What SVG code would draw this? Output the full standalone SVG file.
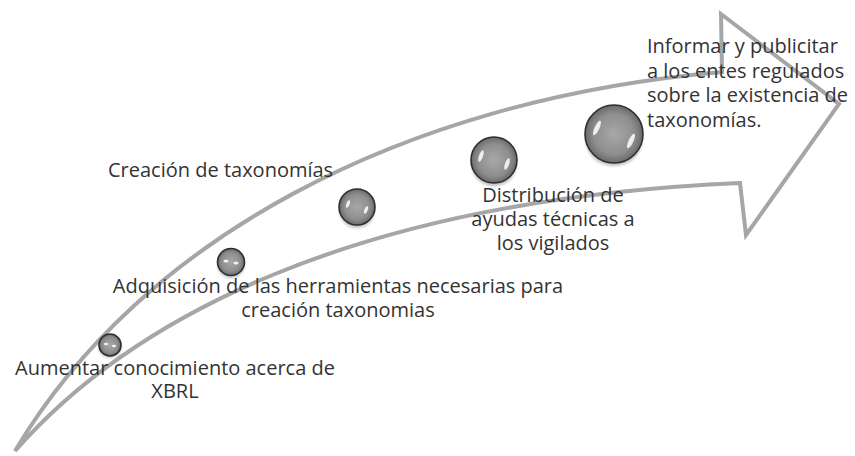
<svg xmlns="http://www.w3.org/2000/svg" width="855" height="456" viewBox="0 0 855 456">
<defs>
<radialGradient id="sg" cx="50%" cy="50%" r="50%">
<stop offset="0" stop-color="#a8a8a8"/>
<stop offset="0.7" stop-color="#8e8e8e"/>
<stop offset="1" stop-color="#6a6a6a"/>
</radialGradient>
<filter id="sh" x="-50%" y="-50%" width="200%" height="200%">
<feGaussianBlur stdDeviation="1.5"/>
</filter>
</defs>
<style>
.lbl{font-family:"Open Sans","Noto Sans","Liberation Sans",sans-serif;font-size:20px;fill:#333333}
.mid{text-anchor:middle}
.arrow{fill:none;stroke:#a6a6a6;stroke-width:4;stroke-linejoin:miter}
.ball{fill:url(#sg);stroke:#2e2e2e;stroke-width:1.6}
.hl{fill:#ffffff;opacity:0.85}
.shd{fill:#000;opacity:0.25;filter:url(#sh)}
</style>
<rect width="855" height="456" fill="#ffffff"/>
<g id="connectors">
<path class="arrow" d="M15,451 C140,240 400,100 722,72 L721,14 L839,104 L746,235 L740,183 C350,200 130,320 15,451 Z"/>
</g>
<g id="n1">
<ellipse class="shd" cx="110" cy="348" rx="11" ry="10"/>
<circle class="ball" cx="110" cy="345" r="11"/>
<ellipse class="hl" cx="106" cy="344" rx="2.2" ry="1.3"/>
<ellipse class="hl" cx="114" cy="346" rx="2.2" ry="1.3"/>
<text class="lbl mid" x="175" y="375">Aumentar conocimiento acerca de</text>
<text class="lbl mid" x="175" y="398">XBRL</text>
</g>
<g id="n2">
<ellipse class="shd" cx="231" cy="266" rx="13" ry="12"/>
<circle class="ball" cx="231" cy="262" r="13.5"/>
<ellipse class="hl" cx="226" cy="261" rx="2.6" ry="1.6"/>
<ellipse class="hl" cx="236" cy="263" rx="2.6" ry="1.6"/>
<text class="lbl mid" x="338" y="293">Adquisición de las herramientas necesarias para</text>
<text class="lbl mid" x="338" y="317">creación taxonomias</text>
</g>
<g id="n3">
<ellipse class="shd" cx="357" cy="212" rx="17" ry="16"/>
<circle class="ball" cx="357" cy="207" r="18"/>
<ellipse class="hl" cx="348" cy="204" rx="1.6" ry="4" transform="rotate(20 348 204)"/>
<ellipse class="hl" cx="366" cy="210" rx="1.6" ry="4" transform="rotate(20 366 210)"/>
<text class="lbl" x="108" y="177">Creación de taxonomías</text>
</g>
<g id="n4">
<ellipse class="shd" cx="494" cy="166" rx="22" ry="20"/>
<circle class="ball" cx="494" cy="160" r="23"/>
<ellipse class="hl" cx="481" cy="156" rx="2" ry="6" transform="rotate(20 481 156)"/>
<ellipse class="hl" cx="507" cy="164" rx="2" ry="6" transform="rotate(20 507 164)"/>
<text class="lbl mid" x="553" y="202">Distribución de</text>
<text class="lbl mid" x="553" y="226">ayudas técnicas a</text>
<text class="lbl mid" x="553" y="250">los vigilados</text>
</g>
<g id="n5">
<ellipse class="shd" cx="614" cy="141" rx="28" ry="25"/>
<circle class="ball" cx="614" cy="134" r="29"/>
<ellipse class="hl" cx="597" cy="128" rx="2.4" ry="8" transform="rotate(25 597 128)"/>
<ellipse class="hl" cx="631" cy="141" rx="2.4" ry="8" transform="rotate(25 631 141)"/>
<text class="lbl" x="647" y="53">Informar y publicitar</text>
<text class="lbl" x="647" y="77.5">a los entes regulados</text>
<text class="lbl" x="647" y="102">sobre la existencia de</text>
<text class="lbl" x="647" y="126.5">taxonomías.</text>
</g>
</svg>
